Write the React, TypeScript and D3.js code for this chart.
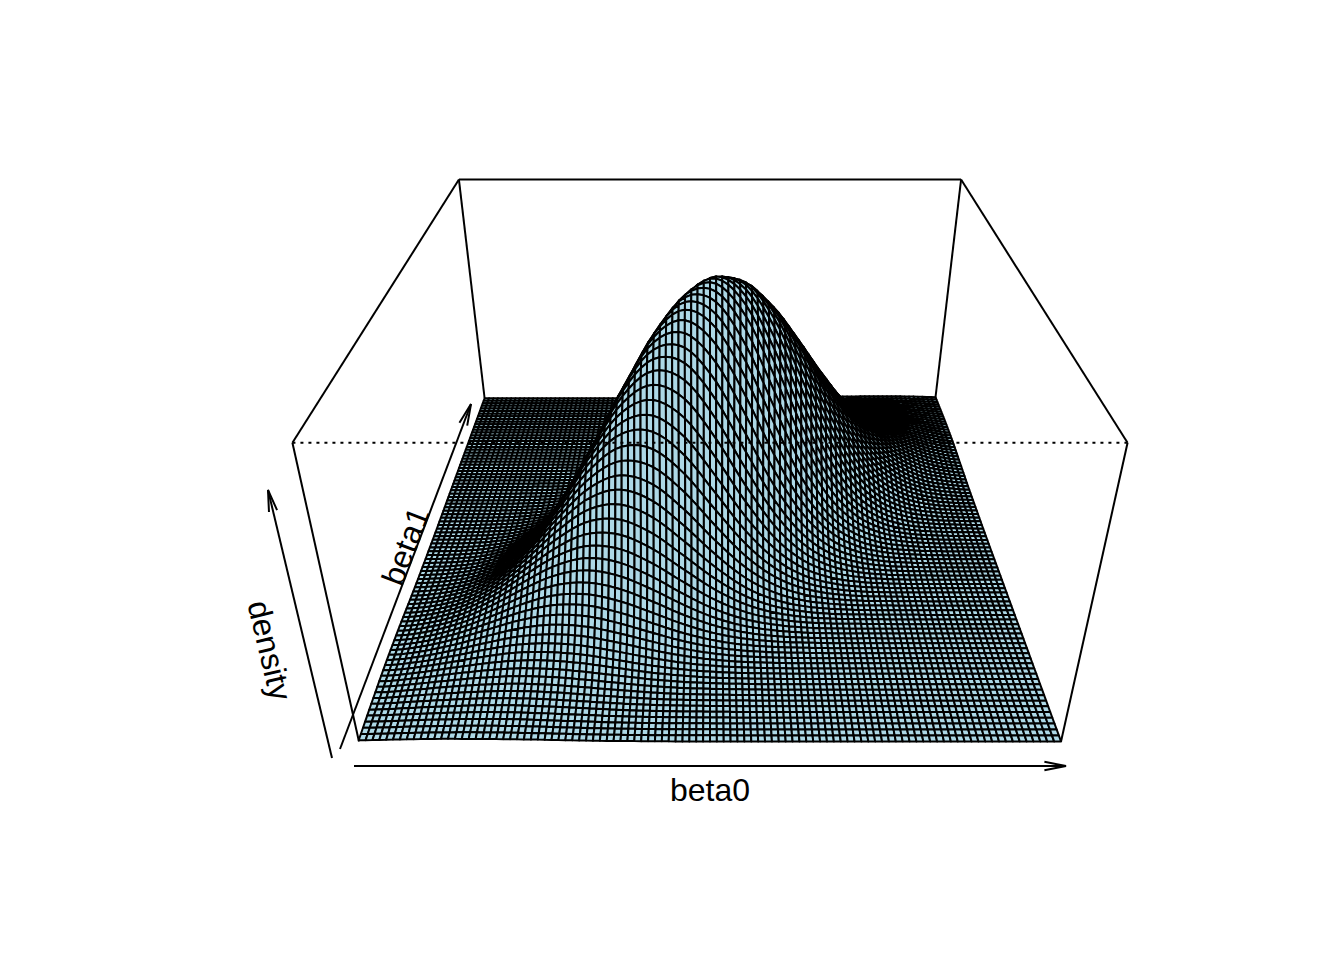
import React from "react";
import * as d3 from "d3";

// Density heights (peak = 1000) at 21 x 21 knots.
// NOTE: the values come from a Gaussian fitted by eye to the reference, and the fine
// mesh between knots is spline-interpolated, because the ~100 x 88 mesh is too large to type.
const beta0Knots = d3.range(21).map(i => -1 + i * 0.1);
const beta1Knots = d3.range(21).map(i => -1 + i * 0.1);
const densityRows = [
  [5, 8, 10, 10, 9, 7, 4, 2, 1, 0, 0, 0, 0, 0, 0, 0, 0, 0, 0, 0, 0],
  [9, 15, 20, 24, 24, 20, 14, 8, 4, 2, 1, 0, 0, 0, 0, 0, 0, 0, 0, 0, 0],
  [12, 23, 36, 47, 53, 50, 40, 27, 15, 7, 3, 1, 0, 0, 0, 0, 0, 0, 0, 0, 0],
  [14, 29, 52, 78, 99, 105, 95, 72, 46, 25, 11, 4, 1, 0, 0, 0, 0, 0, 0, 0, 0],
  [13, 32, 64, 108, 154, 186, 189, 162, 118, 72, 37, 16, 6, 2, 0, 0, 0, 0, 0, 0, 0],
  [11, 29, 65, 124, 201, 273, 315, 305, 250, 173, 101, 50, 21, 7, 2, 1, 0, 0, 0, 0, 0],
  [7, 22, 55, 120, 218, 336, 437, 480, 444, 347, 229, 127, 60, 24, 8, 2, 1, 0, 0, 0, 0],
  [4, 14, 39, 96, 199, 346, 508, 629, 658, 581, 433, 273, 145, 65, 25, 8, 2, 0, 0, 0, 0],
  [2, 7, 23, 65, 151, 297, 492, 690, 816, 814, 685, 487, 292, 148, 63, 23, 7, 2, 0, 0, 0],
  [1, 3, 12, 36, 96, 213, 399, 631, 844, 952, 906, 728, 493, 282, 136, 56, 19, 6, 1, 0, 0],
  [0, 1, 5, 17, 51, 127, 270, 483, 729, 929, 1000, 907, 695, 450, 245, 113, 44, 14, 4, 1, 0],
  [0, 0, 2, 7, 22, 64, 152, 308, 526, 758, 921, 945, 819, 598, 369, 192, 84, 31, 10, 3, 1],
  [0, 0, 0, 2, 8, 27, 72, 164, 317, 516, 709, 822, 805, 665, 463, 273, 135, 57, 20, 6, 2],
  [0, 0, 0, 1, 3, 9, 28, 73, 160, 294, 456, 598, 661, 617, 486, 323, 181, 86, 34, 12, 3],
  [0, 0, 0, 0, 1, 3, 9, 27, 67, 140, 245, 363, 453, 478, 426, 320, 203, 109, 49, 19, 6],
  [0, 0, 0, 0, 0, 1, 3, 8, 24, 55, 110, 184, 260, 310, 312, 265, 190, 115, 59, 25, 9],
  [0, 0, 0, 0, 0, 0, 1, 2, 7, 18, 41, 78, 124, 167, 190, 183, 148, 101, 58, 28, 12],
  [0, 0, 0, 0, 0, 0, 0, 0, 2, 5, 13, 28, 50, 76, 97, 105, 96, 75, 49, 27, 12],
  [0, 0, 0, 0, 0, 0, 0, 0, 0, 1, 3, 8, 17, 29, 41, 51, 53, 46, 34, 21, 11],
  [0, 0, 0, 0, 0, 0, 0, 0, 0, 0, 1, 2, 5, 9, 15, 20, 24, 24, 20, 14, 8],
  [0, 0, 0, 0, 0, 0, 0, 0, 0, 0, 0, 0, 1, 2, 4, 7, 9, 10, 10, 8, 5],
];
const axisLabels = ["beta0", "beta1", "density"];
const meshColumns = 102;
const meshRows = 88;
const knotShift = 0.016; // registers the table's peak with the reference's

const P = { a: 0.0034158, b: 0.000794, c: -0.000227, p: 1.4137, q: -0.1726, s: -0.52585, cx: 710 };
const project = (u: number, v: number, z: number): [number, number] => {
  const w = P.a + P.b * v + P.c * z;
  return [P.cx + u / w, (P.p + P.q * v + P.s * z) / w];
};
const zScale = d3.scaleLinear().domain([0, 1000]).range([-1, 1]);
const cr = (p0: number, p1: number, p2: number, p3: number, t: number) =>
  0.5 * (2 * p1 + (p2 - p0) * t + (2 * p0 - 5 * p1 + 4 * p2 - p3) * t * t + (3 * p1 - p0 - 3 * p2 + p3) * t * t * t);
const last = beta0Knots.length - 1;
const clampI = (i: number) => Math.max(0, Math.min(last, i));
const locate = (x: number): [number, number] => {
  const f = Math.max(0, Math.min(last, (x + 1) / 0.1)), i = Math.min(last - 1, Math.floor(f));
  return [i, f - i];
};
const density = (u: number, v: number) => {
  const [i, s] = locate(u - knotShift), [j, t] = locate(v);
  const row = (r: number) => {
    const R = densityRows[clampI(r)];
    return cr(R[clampI(i - 1)], R[clampI(i)], R[clampI(i + 1)], R[clampI(i + 2)], s);
  };
  return Math.max(0, cr(row(j - 1), row(j), row(j + 1), row(j + 2), t));
};
const colU = d3.scaleLinear().domain([0, meshColumns]).range([-1, 1]);
const rowV = d3.scaleLinear().domain([0, meshRows]).range([-1, 1]);
const boxEdges: [number, number, number][][] = [
  [[-1, -1, 1], [-1, 1, 1]], [[-1, 1, 1], [1, 1, 1]], [[1, 1, 1], [1, -1, 1]],
  [[-1, 1, 1], [-1, 1, -1]], [[1, 1, 1], [1, 1, -1]], [[-1, -1, 1], [-1, -1, -1]], [[1, -1, 1], [1, -1, -1]],
];
const font = "'Liberation Sans', Arial, sans-serif";
const line = d3.line();
function Arrow({ x1, y1, x2, y2 }: any) {
  const t = Math.atan2(y2 - y1, x2 - x1), L = 22, A = 0.19;
  const h = (s: number): [number, number] => [x2 - L * Math.cos(t + s * A), y2 - L * Math.sin(t + s * A)];
  return <g fill="none" stroke="#000" strokeWidth={2}>
    <path d={line([[x1, y1], [x2, y2]])!} />
    <path d={line([h(1), [x2, y2], h(-1)])!} />
  </g>;
}
export default function App() {
  const pt = (i: number, j: number) => {
    const u = colU(i), v = rowV(j);
    return project(u, v, zScale(density(u, v)));
  };
  const polys: string[] = [];
  for (let j = meshRows - 1; j >= 0; j--) for (let i = 0; i < meshColumns; i++) {
    polys.push(line([pt(i, j), pt(i + 1, j), pt(i + 1, j + 1), pt(i, j + 1)])! + "Z");
  }
  return <svg width={1344} height={960} style={{ position: "absolute", left: 0, top: 0, background: "#fff" }}>
    {boxEdges.map((c, i) => <path key={i} d={line([project(c[0][0], c[0][1], c[0][2]), project(c[1][0], c[1][1], c[1][2])])!} stroke="#000" strokeWidth={2} fill="none" />)}
    <g fill="#ADD8E6" stroke="#000" strokeWidth={2} strokeLinejoin="round">{polys.map((d, i) => <path key={i} d={d} />)}</g>
    <path d={line([project(-1, -1, 1), project(1, -1, 1)])!} stroke="#000" strokeWidth={2} strokeDasharray="3 5" fill="none" />
    <Arrow x1={354} y1={766} x2={1066} y2={766} />
    <Arrow x1={340} y1={749} x2={471} y2={404} />
    <Arrow x1={332} y1={758} x2={268} y2={490} />
    <g fontFamily={font} fontSize={32} textAnchor="middle" fill="#000">
      <text x={710} y={801}>{axisLabels[0]}</text>
      <text transform="translate(416,550) rotate(-69.2)">{axisLabels[1]}</text>
      <text transform="translate(259,653) rotate(76.6)">{axisLabels[2]}</text>
    </g>
  </svg>;
}
